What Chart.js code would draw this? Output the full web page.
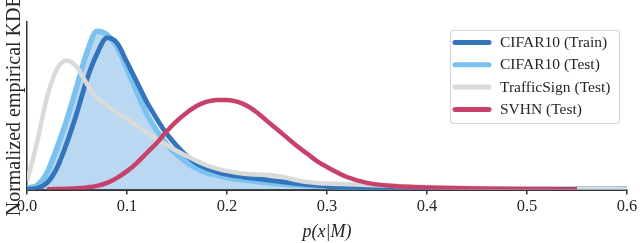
<!DOCTYPE html>
<html><head><meta charset="utf-8">
<script src="https://cdn.jsdelivr.net/npm/chart.js@4.4.1/dist/chart.umd.min.js"></script>
<style>html,body{margin:0;padding:0;background:#fff;}#wrap{width:640px;height:243px;}</style>
</head><body><div id="wrap"><canvas id="c" width="640" height="243"></canvas></div>
<script>
const xGrid = [0,0.01,0.02,0.03,0.04,0.05,0.06,0.07,0.08,0.09,0.10,0.11,0.12,0.13,0.14,0.15,0.16,0.17,0.18,0.19,0.20,0.21,0.22,0.23,0.24,0.25,0.26,0.27,0.28,0.29,0.30,0.32,0.34,0.36,0.38,0.40,0.45,0.50,0.55,0.60];
const cifarTrain = [0.002,0.008,0.04,0.13,0.28,0.46,0.66,0.81,0.905,0.875,0.76,0.64,0.52,0.42,0.33,0.26,0.20,0.155,0.125,0.105,0.09,0.08,0.072,0.065,0.058,0.05,0.043,0.036,0.03,0.025,0.02,0.015,0.012,0.01,0.008,0.006,0.004,0.003,0.002,0.002];
const cifarTest = [0.01,0.025,0.10,0.25,0.42,0.62,0.82,0.945,0.925,0.85,0.72,0.58,0.45,0.35,0.27,0.21,0.16,0.125,0.10,0.085,0.072,0.062,0.055,0.048,0.042,0.036,0.031,0.027,0.023,0.02,0.017,0.013,0.01,0.008,0.007,0.006,0.005,0.004,0.004,0.003];
const trafficSign = [0.05,0.28,0.55,0.72,0.77,0.73,0.63,0.55,0.50,0.46,0.42,0.38,0.34,0.30,0.265,0.23,0.20,0.17,0.145,0.125,0.11,0.10,0.093,0.09,0.088,0.082,0.07,0.055,0.045,0.04,0.036,0.032,0.028,0.024,0.02,0.016,0.01,0.007,0.005,0.004];
const svhn = [null,null,0.002,0.003,0.005,0.008,0.013,0.022,0.04,0.07,0.11,0.16,0.22,0.28,0.35,0.41,0.46,0.50,0.525,0.535,0.535,0.525,0.50,0.46,0.41,0.36,0.31,0.26,0.215,0.17,0.135,0.075,0.04,0.025,0.017,0.012,0.006,0.003,0.002,null];
const xTicks = [0.0,0.1,0.2,0.3,0.4,0.5,0.6];
const labels = ['CIFAR10 (Train)','CIFAR10 (Test)','TrafficSign (Test)','SVHN (Test)'];

const toPts = arr => xGrid.map((x,i)=>({x:x,y:arr[i]}));
const SERIF = "'Liberation Serif','Times New Roman',serif";

const legendPlugin = {
  id:'boxLegend',
  afterDraw(chart){
    const ctx = chart.ctx;
    const x0=450.5, y0=30.5, w=169, h=93;
    ctx.save();
    ctx.fillStyle='rgba(255,255,255,0.85)';
    ctx.strokeStyle='#d6d6d6';
    ctx.lineWidth=1.2;
    ctx.beginPath();
    if(ctx.roundRect){ctx.roundRect(x0,y0,w,h,3);}else{ctx.rect(x0,y0,w,h);}
    ctx.fill(); ctx.stroke();
    ctx.font = "15.5px "+SERIF;
    ctx.textBaseline='middle';
    chart.data.datasets.forEach((ds,i)=>{
      const y = 42.5 + i*22.3;
      ctx.strokeStyle = ds.borderColor;
      ctx.lineWidth = 5;
      ctx.lineCap='round';
      ctx.beginPath(); ctx.moveTo(455,y); ctx.lineTo(489,y); ctx.stroke();
      ctx.fillStyle='#262626';
      ctx.fillText(ds.label, 500, y+0.5);
    });
    ctx.restore();
  }
};

new Chart(document.getElementById('c'),{
  type:'line',
  data:{datasets:[
    {label:labels[0],data:toPts(cifarTrain),borderColor:'#3474bc',borderWidth:4.8,fill:false,pointRadius:0,cubicInterpolationMode:'monotone',order:3},
    {label:labels[1],data:toPts(cifarTest),borderColor:'#7bc2f1',backgroundColor:'#bad8f1',borderWidth:5.5,fill:'origin',pointRadius:0,cubicInterpolationMode:'monotone',order:4},
    {label:labels[2],data:toPts(trafficSign),borderColor:'#d8dbd8',borderWidth:4.5,fill:false,pointRadius:0,cubicInterpolationMode:'monotone',order:2},
    {label:labels[3],data:toPts(svhn),borderColor:'#c8416a',borderWidth:4.5,fill:false,pointRadius:0,cubicInterpolationMode:'monotone',order:1,spanGaps:false}
  ]},
  options:{
    responsive:false,animation:false,
    layout:{padding:{top:22,right:13,left:3,bottom:0}},
    plugins:{legend:{display:false},tooltip:{enabled:false}},
    scales:{
      x:{type:'linear',min:0,max:0.6,
        afterBuildTicks(s){s.ticks = xTicks.map(v=>({value:v}));},
        ticks:{font:{family:SERIF,size:16.5},color:'#262626',padding:2,maxRotation:0,callback:v=>Number(v).toFixed(1)},
        grid:{display:true,drawOnChartArea:false,drawTicks:true,tickLength:5,color:'#333',lineWidth:1.5},
        border:{display:true,color:'#333',width:2},
        title:{display:true,text:'p(x|M)',font:{family:SERIF,size:18,style:'italic'},color:'#262626',padding:{top:3,bottom:0}}
      },
      y:{min:0,max:1,
        ticks:{display:false},
        grid:{display:true,drawOnChartArea:false,drawTicks:false},
        border:{display:true,color:'#333',width:1.5},
        title:{display:true,text:'Normalized empirical KDE',font:{family:SERIF,size:20},color:'#262626',padding:0}
      }
    }
  },
  plugins:[legendPlugin]
});
</script></body></html>
